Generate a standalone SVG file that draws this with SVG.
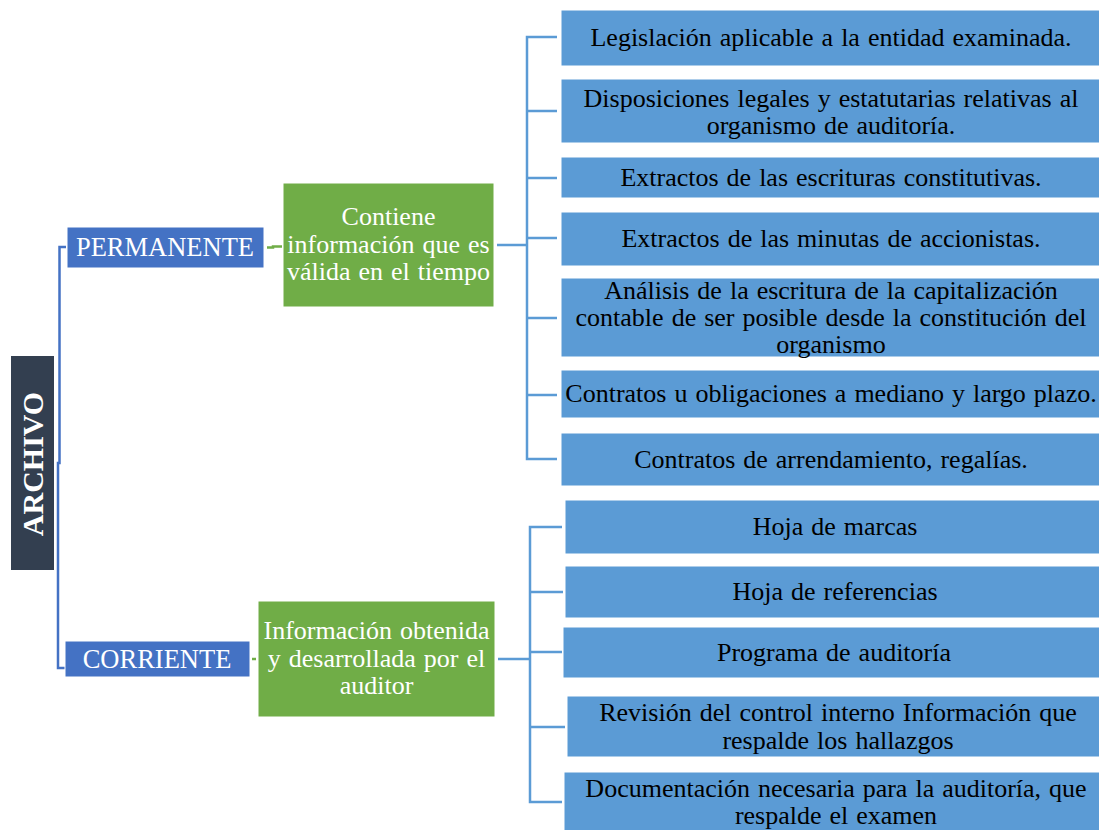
<svg xmlns="http://www.w3.org/2000/svg" width="1099" height="830" viewBox="0 0 1099 830">
<style>
text{font-family:"Liberation Serif","Times New Roman",serif;text-anchor:middle}
.b{fill:#5B9BD5;stroke:#FFFFFF;stroke-width:1}
.g{fill:#70AD47;stroke:#FFFFFF;stroke-width:1}
.d{fill:#4472C4;stroke:#FFFFFF;stroke-width:1}
.bt{fill:#000000;font-size:26px;word-spacing:1.5px}
.wt{fill:#FFFFFF;font-size:26px;word-spacing:1.5px}
.lb{fill:none;stroke:#5B9BD5;stroke-width:2.5}
.ld{fill:none;stroke:#4472C4;stroke-width:2.5}
.lg{fill:none;stroke:#70AD47;stroke-width:2.5}
</style>
<rect width="1099" height="830" fill="#FFFFFF"/>
<g id="connectors">
<path class="ld" d="M66,247 H59.5 V463 H58 V668 H65"/>
<path class="lg" d="M267,247.5 H273 V246.5 H282"/>
<path class="lg" d="M252,659 H256"/>
<path class="lb" d="M497,245 H527 M557,37 H527 V459 H557 M527,111 H557 M527,178 H557 M527,238 H557 M527,318 H557 M527,395 H557"/>
<path class="lb" d="M498,659 H530 M562,527 H530 V802 H562 M530,592 H563 M530,652 H562 M530,727 H565"/>
</g>
<g id="archivo">
<rect x="11" y="356" width="43" height="214" fill="#333F50"/>
<text transform="translate(43,464) rotate(-90)" style="fill:#FFFFFF;font-size:30px;font-weight:bold">ARCHIVO</text>
</g>
<g id="permanente">
<rect class="d" x="67" y="227" width="197" height="41"/>
<text class="wt" x="165" y="256" style="font-size:26.5px">PERMANENTE</text>
</g>
<g id="corriente">
<rect class="d" x="65" y="641" width="185" height="36"/>
<text class="wt" x="157" y="668" style="font-size:26.5px">CORRIENTE</text>
</g>
<g id="perm-desc">
<rect class="g" x="283" y="183" width="211" height="124"/>
<text class="wt" x="388.5" y="225">Contiene</text>
<text class="wt" x="388.5" y="253">información que es</text>
<text class="wt" x="388.5" y="280">válida en el tiempo</text>
</g>
<g id="corr-desc">
<rect class="g" x="258" y="601" width="237" height="116"/>
<text class="wt" x="376.5" y="639">Información obtenida</text>
<text class="wt" x="376.5" y="667">y desarrollada por el</text>
<text class="wt" x="376.5" y="694">auditor</text>
</g>
<g id="p1"><rect class="b" x="561" y="10" width="540" height="56"/><text class="bt" x="831" y="46">Legislación aplicable a la entidad examinada.</text></g>
<g id="p2"><rect class="b" x="561" y="79" width="540" height="64"/><text class="bt" x="831" y="107">Disposiciones legales y estatutarias relativas al</text><text class="bt" x="831" y="134">organismo de auditoría.</text></g>
<g id="p3"><rect class="b" x="561" y="157" width="540" height="41"/><text class="bt" x="831" y="186">Extractos de las escrituras constitutivas.</text></g>
<g id="p4"><rect class="b" x="561" y="212" width="540" height="54"/><text class="bt" x="831" y="247">Extractos de las minutas de accionistas.</text></g>
<g id="p5"><rect class="b" x="561" y="278" width="540" height="79"/><text class="bt" x="831" y="299">Análisis de la escritura de la capitalización</text><text class="bt" x="831" y="326">contable de ser posible desde la constitución del</text><text class="bt" x="831" y="353">organismo</text></g>
<g id="p6"><rect class="b" x="561" y="370" width="540" height="48"/><text class="bt" x="831" y="402">Contratos u obligaciones a mediano y largo plazo.</text></g>
<g id="p7"><rect class="b" x="561" y="433" width="540" height="53"/><text class="bt" x="831" y="468">Contratos de arrendamiento, regalías.</text></g>
<g id="c1"><rect class="b" x="565" y="500" width="536" height="54"/><text class="bt" x="835" y="535">Hoja de marcas</text></g>
<g id="c2"><rect class="b" x="565" y="566" width="536" height="52"/><text class="bt" x="835" y="600">Hoja de referencias</text></g>
<g id="c3"><rect class="b" x="563" y="627" width="538" height="51"/><text class="bt" x="834" y="661">Programa de auditoría</text></g>
<g id="c4"><rect class="b" x="567" y="696" width="534" height="61"/><text class="bt" x="838" y="721">Revisión del control interno Información que</text><text class="bt" x="838" y="749">respalde los hallazgos</text></g>
<g id="c5"><rect class="b" x="564" y="772" width="537" height="60"/><text class="bt" x="836" y="797">Documentación necesaria para la auditoría, que</text><text class="bt" x="836" y="824">respalde el examen</text></g>
</svg>
